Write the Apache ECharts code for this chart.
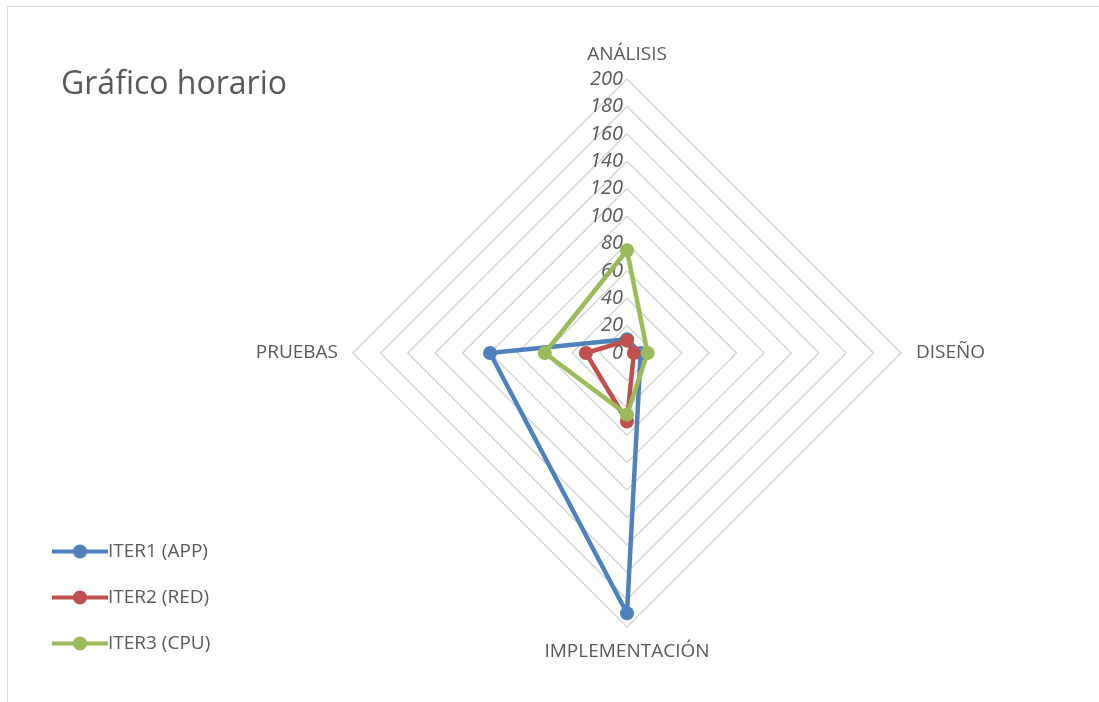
<!DOCTYPE html>
<html>
<head>
<meta charset="utf-8">
<script src="https://cdn.jsdelivr.net/npm/echarts@6/dist/echarts.min.js"></script>
<style>
  html, body { margin: 0; padding: 0; background: #fff; }
  #chart { width: 1099px; height: 702px; }
</style>
</head>
<body>
<div id="chart"></div>
<script>
// categories in Excel (clockwise) order
const categories = ['ANÁLISIS', 'DISEÑO', 'IMPLEMENTACIÓN', 'PRUEBAS']
const seriesNames = ['ITER1 (APP)', 'ITER2 (RED)', 'ITER3 (CPU)']
const iter1 = [10, 10, 190, 100]
const iter2 = [9, 5, 50, 30]
const iter3 = [75, 15, 45, 60]
const colors = ['#4f81bd', '#c0504d', '#9bbb59']

// echarts lays indicators out counter-clockwise, so flip the order after the first
const order = [0, 3, 2, 1]
const reorder = (arr) => order.map((i) => arr[i])

// line + marker legend icon (56 x 14 box)
const lineDotIcon =
  'path://M0,5 L56,5 L56,9 L0,9 Z M21,7 A7,7 0 1,1 35,7 A7,7 0 1,1 21,7 Z'

const chart = echarts.init(document.getElementById('chart'))
chart.setOption({
  animation: false,
  color: colors,
  textStyle: { fontFamily: 'Open Sans' },
  graphic: [
    {
      type: 'rect',
      shape: { x: 7.5, y: 6.5, width: 1200, height: 800 },
      style: { fill: 'none', stroke: '#d9d9d9', lineWidth: 1 },
    },
  ],
  title: {
    text: 'Gráfico horario',
    left: 56,
    top: 64,
    textStyle: { fontSize: 32, fontWeight: 'normal', color: '#595959', fontFamily: 'Open Sans' },
  },
  legend: {
    orient: 'vertical',
    left: 47,
    top: 537,
    itemWidth: 56,
    itemHeight: 14,
    itemGap: 27,
    icon: lineDotIcon,
    textStyle: { fontSize: 19, color: '#595959', padding: [0, 0, 0, -5] },
    data: seriesNames,
  },
  radar: {
    center: [627, 353],
    radius: 274,
    shape: 'polygon',
    startAngle: 90,
    splitNumber: 10,
    nameGap: 15,
    axisName: { color: '#595959', fontSize: 19 },
    axisLine: { show: false },
    axisTick: { show: false },
    axisLabel: { show: false },
    splitArea: { show: false },
    splitLine: { lineStyle: { color: '#d4d4d4', width: 1.4 } },
    indicator: reorder(categories).map((name, i) => ({
      name: name,
      min: 0,
      max: 200,
      interval: 20,
      axisLabel: i === 0
        ? { show: true, color: '#595959', fontSize: 20, fontStyle: 'italic', margin: 4 }
        : { show: false },
    })),
  },
  series: [
    {
      type: 'radar',
      symbol: 'circle',
      symbolSize: 14,
      lineStyle: { width: 4.5 },
      data: [
        { name: seriesNames[0], value: reorder(iter1) },
        { name: seriesNames[1], value: reorder(iter2) },
        { name: seriesNames[2], value: reorder(iter3) },
      ],
    },
  ],
})
</script>
</body>
</html>
